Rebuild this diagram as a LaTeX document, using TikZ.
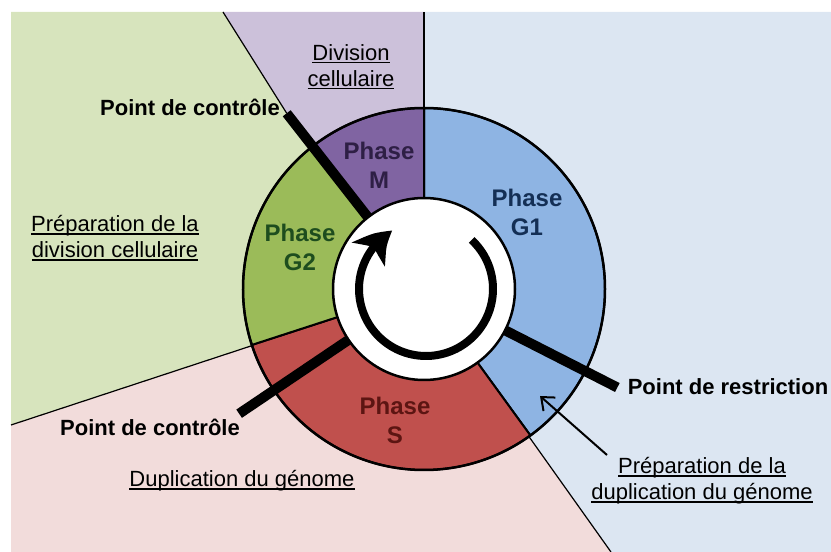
\documentclass[tikz,border=0pt]{standalone}
\usepackage{fontspec}
\setmainfont{Liberation Sans}
\usetikzlibrary{arrows.meta,bending,calc}
\definecolor{bgGreen}{HTML}{D7E4BD}
\definecolor{bgPurple}{HTML}{CCC1DA}
\definecolor{bgBlue}{HTML}{DCE6F2}
\definecolor{bgPink}{HTML}{F2DCDB}
\definecolor{ringM}{HTML}{8064A2}
\definecolor{ringGtwo}{HTML}{9BBB59}
\definecolor{ringS}{HTML}{C0504D}
\definecolor{ringGone}{HTML}{8EB4E3}
\definecolor{txtM}{HTML}{2E1F45}
\definecolor{txtGtwo}{HTML}{1E4D1E}
\definecolor{txtS}{HTML}{5C1512}
\definecolor{txtGone}{HTML}{142F55}
\newcommand\myul[1]{\setbox0\hbox{#1}\rlap{\rule[-3pt]{\wd0}{1.4pt}}\box0}
\begin{document}
\begin{tikzpicture}[x=1pt,y=1pt,
  thinline/.style={line width=1.2pt},
  ringline/.style={line width=2pt},
  barline/.style={line width=10pt},
  phase/.style={font=\bfseries\fontsize{24}{29}\selectfont, align=center, inner sep=0pt},
  lab/.style={font=\bfseries\fontsize{22}{26}\selectfont, inner sep=0pt},
  ulab/.style={font=\fontsize{22}{26}\selectfont, align=center, inner sep=0pt}]
\useasboundingbox (0,0) rectangle (831,552);
\coordinate (C) at (424,263);
\coordinate (tl) at (11,540);
\coordinate (tm) at (223,540);
\coordinate (tv) at (424,540);
\coordinate (tr) at (831,540);
\coordinate (br) at (831,0);
\coordinate (bm) at (611,0);
\coordinate (bl) at (11,0);
\coordinate (ml) at (11,127);
% bars
\coordinate (b1s) at ([shift={(C)}]128:85);
\coordinate (b1e) at ([shift={(C)}]128:223);
\coordinate (b2s) at ([shift={(C)}]214:85);
\coordinate (b2e) at ([shift={(C)}]214:223);
\coordinate (b3s) at ([shift={(C)}]-27:85);
\coordinate (b3e) at ([shift={(C)}]-27:217);
% background regions
\fill[bgGreen] (tl) -- (tm) -- (b1e) -- (C) -- (ml) -- cycle;
\fill[bgPurple] (tm) -- (tv) -- (C) -- (b1e) -- cycle;
\fill[bgBlue] (tv) -- (tr) -- (br) -- (bm) -- (C) -- cycle;
\fill[bgPink] (ml) -- (C) -- (bm) -- (bl) -- cycle;
\draw[thinline] (tm) -- (b1e);
\draw[thinline] (tv) -- (C);
\draw[thinline] (ml) -- (C);
\draw[thinline] (bm) -- (C);
% ring sectors
\filldraw[fill=ringGone, ringline] (C) -- ([shift={(C)}]90:181) arc[start angle=90, end angle=-54, radius=181] -- cycle;
\filldraw[fill=ringS, ringline] (C) -- ([shift={(C)}]-54:181) arc[start angle=-54, end angle=-162, radius=181] -- cycle;
\filldraw[fill=ringGtwo, ringline] (C) -- ([shift={(C)}]198:181) arc[start angle=198, end angle=128, radius=181] -- cycle;
\filldraw[fill=ringM, ringline] (C) -- ([shift={(C)}]128:181) arc[start angle=128, end angle=90, radius=181] -- cycle;
\draw[line width=2.5pt] (C) circle[radius=181];
% bars
\draw[barline] (b1s) -- (b1e);
\draw[barline] (b2s) -- (b2e);
\draw[barline] (b3s) -- (b3e);
% inner circle
\draw[fill=white, line width=2.5pt] (C) circle[radius=91];
% cycle arrow
\coordinate (AC) at (426,263);
\draw[line width=8pt, -{Stealth[length=34pt, width=40pt, inset=9pt, bend]}] ([shift={(AC)}]47:67) arc[start angle=47, end angle=-240, radius=67];
% phase labels
\node[phase, text=txtM] (pM) at (379,387) {Phase\\M};
\node[phase, text=txtGtwo] (pG2) at (300,304.5) {Phase\\G2};
\node[phase, text=txtGone] (pG1) at (527,339.5) {Phase\\G1};
\node[phase, text=txtS] (pS) at (395,132) {Phase\\S};
% other labels
\node[lab] (pc1) at (190,445) {Point de contrôle};
\node[lab] (pc2) at (150,125) {Point de contrôle};
\node[lab] (pr) at (728,165) {Point de restriction};
\node[ulab] (dc) at (351,485) {\myul{Division}\\\myul{cellulaire}};
\node[ulab] (pdc) at (115,314) {\myul{Préparation de la}\\\myul{division cellulaire}};
\node[ulab] (dg) at (242,71) {\myul{Duplication du génome}};
\node[ulab] (pdg) at (702,71) {\myul{Préparation de la}\\\myul{duplication du génome}};
\coordinate (atail) at (607,97);
\coordinate (ahead) at (540,156);
\draw[line width=2pt, -{Straight Barb[length=11pt, width=18pt]}] (atail) -- (ahead);
\end{tikzpicture}
\end{document}
